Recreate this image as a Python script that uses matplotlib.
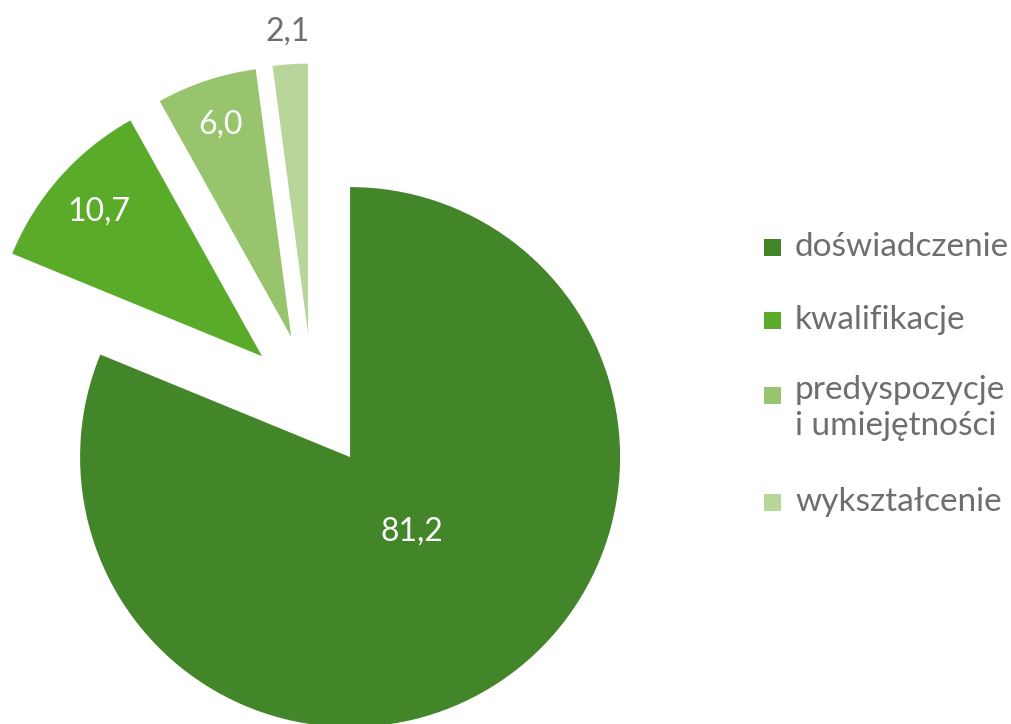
import matplotlib.pyplot as plt
from matplotlib.patches import Rectangle
import numpy as np

# data
categories = ["doświadczenie", "kwalifikacje", "predyspozycje\ni umiejętności", "wykształcenie"]
values = [81.2, 10.7, 6.0, 2.1]
value_labels = ["81,2", "10,7", "6,0", "2,1"]
colors = ["#43862a", "#5aab2a", "#98c46e", "#b9d69a"]

plt.rcParams['font.family'] = ['Lato', 'DejaVu Sans']

W, H = 1011, 724
fig = plt.figure(figsize=(W / 100, H / 100), dpi=100)
ax = fig.add_axes([0, 0, 1, 1])

R = 270
# matplotlib explode is in data units, so scale by the radius
wedges, _ = ax.pie(values, colors=colors, startangle=90, counterclock=False,
                   explode=[0.25 * R] * 4, radius=R, center=(312.5, H - 401),
                   wedgeprops=dict(linewidth=0))

# value labels (distance from wedge apex, in radii)
label_dist = [0.33, 0.81, 0.83, 1.12]
label_col = ["white", "white", "white", "#6d6e71"]
for w, txt, d, c in zip(wedges, value_labels, label_dist, label_col):
    th = np.radians((w.theta1 + w.theta2) / 2)
    x = w.center[0] + d * R * np.cos(th)
    y = w.center[1] + d * R * np.sin(th)
    if txt == "81,2":
        x += 12
    ax.text(x, y, txt, color=c, fontsize=23, ha="center", va="center")

# legend drawn by hand
rows = [247, 320, 395, 502]
for cat, col, yr in zip(categories, colors, rows):
    ax.add_patch(Rectangle((764, H - yr - 8.5), 17, 17, color=col, lw=0))
    if "\n" in cat:
        ax.text(795, H - yr + 20, cat, color="#6d6e71", fontsize=24, va="top",
                linespacing=1.25)
    else:
        ax.text(795, H - yr, cat, color="#6d6e71", fontsize=24, va="center")

ax.set_xlim(0, W)
ax.set_ylim(0, H)
ax.set_aspect("auto")
ax.axis("off")

fig.savefig("out.png", dpi=100)
